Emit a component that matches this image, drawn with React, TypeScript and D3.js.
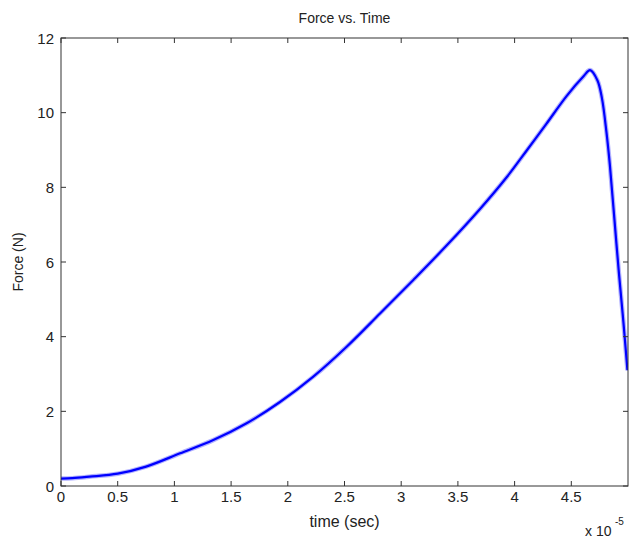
import React from "react";
import * as d3 from "d3";

const timeE5 = [0, 0.1, 0.25, 0.5, 0.75, 1.05, 1.343, 1.637, 1.931, 2.225, 2.519, 2.813, 3.107, 3.4, 3.695, 3.93, 4.11, 4.28, 4.46, 4.61, 4.665, 4.73, 4.77, 4.81, 4.84, 4.877, 4.92, 4.96, 4.995];
const force = [0.2, 0.21, 0.25, 0.33, 0.52, 0.875, 1.23, 1.68, 2.25, 2.93, 3.73, 4.62, 5.52, 6.44, 7.42, 8.27, 9.0, 9.7, 10.45, 10.98, 11.14, 10.87, 10.39, 9.48, 8.6, 7.26, 5.7, 4.37, 3.1];
const xTicks = [0, 0.5, 1, 1.5, 2, 2.5, 3, 3.5, 4, 4.5];
const yTicks = [0, 2, 4, 6, 8, 10, 12];

export default function App() {
  const W = 629, H = 541;
  const left = 61, right = 628, top = 38, bottom = 486;
  const x = d3.scaleLinear().domain([0, 5]).range([left, right]);
  const y = d3.scaleLinear().domain([0, 12]).range([bottom, top]);
  const pts: [number, number][] = timeE5.map((t, i) => [t, force[i]]);
  const line = d3.line<[number, number]>().x(d => x(d[0])).y(d => y(d[1])).curve(d3.curveCatmullRom.alpha(0.5));
  const path = line(pts) || "";
  const font = "Liberation Sans, Arial, Helvetica, sans-serif";
  const axisColor = "#333";
  const textColor = "#222";
  const tl = 5;
  return (
    <svg width={W} height={H} style={{ position: "absolute", left: 0, top: 0 }} fontFamily={font}>
      <rect x={0} y={0} width={W} height={H} fill="#fff" />
      <text x={(left + right) / 2} y={23} textAnchor="middle" fontSize={14} fill={textColor}>Force vs. Time</text>
      <clipPath id="clip"><rect x={left} y={top} width={right - left} height={bottom - top} /></clipPath>
      <g clipPath="url(#clip)">
        <path d={path} fill="none" stroke="#0000ff" strokeOpacity={0.3} strokeWidth={4.5} strokeLinejoin="round" />
        <path d={path} fill="none" stroke="#0000ff" strokeWidth={2.2} strokeLinejoin="round" />
      </g>
      <rect x={left} y={top} width={right - left} height={bottom - top} fill="none" stroke={axisColor} strokeWidth={1} />
      {xTicks.map(t => (
        <g key={"x" + t}>
          <line x1={x(t)} x2={x(t)} y1={bottom} y2={bottom - tl} stroke={axisColor} />
          <line x1={x(t)} x2={x(t)} y1={top} y2={top + tl} stroke={axisColor} />
          <text x={x(t)} y={502} textAnchor="middle" fontSize={15} fill={textColor}>{t}</text>
        </g>
      ))}
      {yTicks.map(v => (
        <g key={"y" + v}>
          <line x1={left} x2={left + tl} y1={y(v)} y2={y(v)} stroke={axisColor} />
          <line x1={right} x2={right - tl} y1={y(v)} y2={y(v)} stroke={axisColor} />
          <text x={54} y={y(v) + 5.5} textAnchor="end" fontSize={15} fill={textColor}>{v}</text>
        </g>
      ))}
      <text x={(left + right) / 2} y={527} textAnchor="middle" fontSize={16} fill={textColor}>time (sec)</text>
      <text transform={`translate(23,${(top + bottom) / 2}) rotate(-90)`} textAnchor="middle" fontSize={14} fill={textColor}>Force (N)</text>
      <text x={585} y={536} fontSize={14} fill={textColor}>x 10</text>
      <text x={615} y={525} fontSize={10} fill={textColor}>-5</text>
    </svg>
  );
}
